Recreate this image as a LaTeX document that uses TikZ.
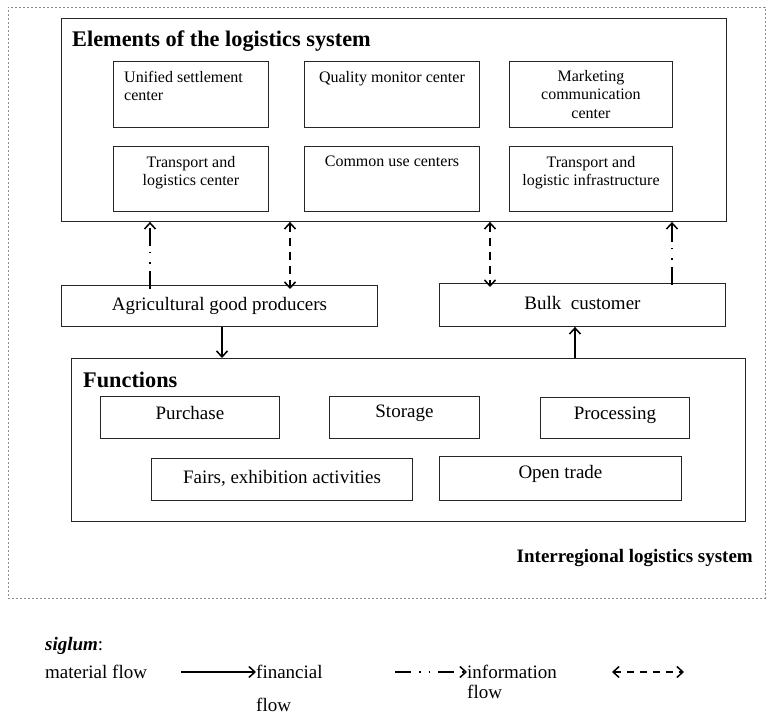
\documentclass[tikz,border=0pt]{standalone}
\usepackage{fontspec}
\setmainfont{Liberation Serif}
\usetikzlibrary{arrows.meta,calc}
\begin{document}
\begin{tikzpicture}[x=1pt,y=-1pt,
  box/.style={draw=black!85, line width=0.9pt, rectangle, inner sep=0pt, anchor=north west},
  txt/.style={inner sep=0pt, font=\fontsize{16}{18.5}\selectfont, align=center},
  midtxt/.style={inner sep=0pt, font=\fontsize{19}{22}\selectfont, align=center},
  legtxt/.style={inner sep=0pt, anchor=base west, font=\fontsize{19}{22}\selectfont},
  ttl/.style={inner sep=0pt, font=\fontsize{22.3}{25}\selectfont\bfseries, anchor=base west},
  flowarrow/.style={line width=1.4pt, -{Straight Barb[length=6pt,width=11pt,line width=1.5pt]}},
  material/.style={flowarrow},
  info/.style={flowarrow, dash pattern=on 18pt off 7pt on 1.6pt off 9pt on 1.6pt off 6pt},
  finance/.style={line width=1.4pt, dash pattern=on 8pt off 6pt,
     {Straight Barb[length=6pt,width=11pt,line width=1.5pt]}-{Straight Barb[length=6pt,width=11pt,line width=1.5pt]}},
]
\useasboundingbox[fill=white] (0,0) rectangle (769,722);
% outer dashed frame
\node[draw=black!45, line width=0.6pt, dash pattern=on 2pt off 2pt, rectangle, inner sep=0pt, anchor=north west,
  minimum width=757pt, minimum height=591pt] (outer) at (8,7) {};
\node[inner sep=0pt, font=\fontsize{19}{22}\selectfont\bfseries, anchor=base east] (irl) at (753,562) {Interregional logistics system};

% Elements of the logistics system
\node[box, minimum width=665pt, minimum height=203pt] (elem) at (61,18) {};
\node[ttl] (elemt) at (72,47) {Elements of the logistics system};
\node[box, minimum width=155pt, minimum height=66pt] (e1) at (113,61) {};
\node[box, minimum width=175pt, minimum height=66pt] (e2) at (304,61) {};
\node[box, minimum width=163pt, minimum height=66pt] (e3) at (509,61) {};
\node[box, minimum width=155pt, minimum height=65pt] (e4) at (113,146) {};
\node[box, minimum width=175pt, minimum height=65pt] (e5) at (304,146) {};
\node[box, minimum width=163pt, minimum height=65pt] (e6) at (509,146) {};
\node[txt, align=left, anchor=north west] (e1t) at ([xshift=11pt,yshift=-10pt]e1.north west) {Unified settlement\\center};
\node[txt, anchor=north] (e2t) at ([yshift=-10pt]e2.north) {Quality monitor center};
\node[txt, anchor=north] (e3t) at ([yshift=-9pt]e3.north) {Marketing\\communication\\center};
\node[txt, anchor=north] (e4t) at ([yshift=-10pt]e4.north) {Transport and\\logistics center};
\node[txt, anchor=north] (e5t) at ([yshift=-10pt]e5.north) {Common use centers};
\node[txt, anchor=north] (e6t) at ([yshift=-10pt]e6.north) {Transport and\\logistic infrastructure};

% middle row
\node[box, minimum width=316pt, minimum height=41pt] (agri) at (61,285) {};
\node[midtxt] (agrit) at (agri.center) {Agricultural good producers};
\node[box, minimum width=286pt, minimum height=43pt] (bulk) at (439,283) {};
\node[midtxt, yshift=2pt] (bulkt) at (bulk.center) {Bulk\ \ customer};

% Functions
\node[box, minimum width=674pt, minimum height=163pt] (func) at (71,358) {};
\node[ttl] (funct) at (83,387) {Functions};
\node[box, minimum width=179pt, minimum height=42pt] (f1) at (100,396) {};
\node[box, minimum width=150pt, minimum height=42pt] (f2) at (329,396) {};
\node[box, minimum width=149pt, minimum height=41pt] (f3) at (540,397) {};
\node[box, minimum width=261pt, minimum height=42pt] (f4) at (151,458) {};
\node[box, minimum width=242pt, minimum height=44pt] (f5) at (439,456) {};
\node[midtxt, yshift=4pt] (f1t) at (f1.center) {Purchase};
\node[midtxt, yshift=4pt] (f2t) at (f2.center) {Storage};
\node[midtxt, yshift=3pt] (f3t) at (f3.center) {Processing};
\node[midtxt, yshift=1pt] (f4t) at (f4.center) {Fairs, exhibition activities};
\node[midtxt, yshift=5pt] (f5t) at (f5.center) {Open trade};

% connectors
\draw[info] ([xshift=89pt,yshift=-4pt]agri.north west) -- ([xshift=89pt]agri.north west |- elem.south);
\draw[finance] ([xshift=229pt]agri.north west |- elem.south) -- ([xshift=229pt,yshift=-4pt]agri.north west);
\draw[finance] ([xshift=51pt]bulk.north west |- elem.south) -- ([xshift=51pt,yshift=-4pt]bulk.north west);
\draw[info] ([xshift=233pt,yshift=-2pt]bulk.north west) -- ([xshift=233pt]bulk.north west |- elem.south);
\draw[material] ([xshift=161pt]agri.south west) -- ([xshift=161pt]agri.south west |- func.north);
\draw[material] ([xshift=136pt]bulk.south west |- func.north) -- ([xshift=136pt]bulk.south west);

% legend
\node[legtxt] (sig) at (45,650) {\textbf{\textit{siglum}}:};
\node[legtxt] (mat) at (45,678) {material flow};
\coordinate (m1) at (181,672);
\coordinate (m2) at (256,672);
\draw[material] (m1) -- (m2);
\node[legtxt] (fin1) at (256,678) {financial};
\node[legtxt] (fin2) at (256,711) {flow};
\coordinate (i1) at (395,672);
\coordinate (i2) at (467,672);
\draw[info, dash pattern=on 16pt off 8pt on 1.6pt off 8pt on 1.6pt off 8pt] (i1) -- (i2);
\node[legtxt] (inf1) at (467,678) {information};
\node[legtxt] (inf2) at (467,698) {flow};
\coordinate (d1) at (612,672);
\coordinate (d2) at (684,672);
\draw[finance, dash pattern=on 7pt off 6pt] (d1) -- (d2);
\end{tikzpicture}
\end{document}
